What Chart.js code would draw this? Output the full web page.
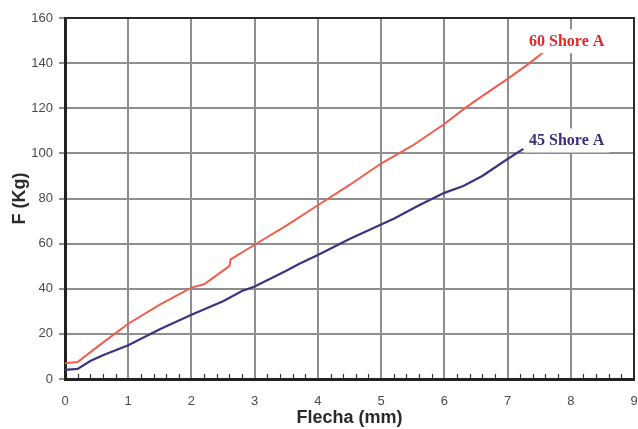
<!DOCTYPE html>
<html>
<head>
<meta charset="utf-8">
<script src="https://cdn.jsdelivr.net/npm/chart.js@4/dist/chart.umd.min.js"></script>
<style>
  html, body { margin: 0; padding: 0; background: #ffffff; }
  #wrap { position: relative; width: 638px; height: 429px; }
</style>
</head>
<body>
<div id="wrap"><canvas id="c" width="638" height="429"></canvas></div>
<script>
// ---- data ----
const xTicks = [0, 1, 2, 3, 4, 5, 6, 7, 8, 9];
const yTicks = [0, 20, 40, 60, 80, 100, 120, 140, 160];

const shore60Name = "60 Shore A";
const shore60X = [0, 0.2, 0.5, 1.0, 1.5, 2.0, 2.2, 2.6, 2.62, 3.0, 3.5, 4.0, 4.5, 5.0, 5.5, 6.0, 6.3, 6.5, 7.0, 7.3, 7.6];
const shore60Y = [7, 7.5, 14, 24.5, 33, 40.5, 42, 50, 53, 59.5, 68, 77, 86, 95.5, 103.5, 113, 119.5, 123.5, 133, 139, 145.5];

const shore45Name = "45 Shore A";
const shore45X = [0, 0.2, 0.4, 0.6, 1.0, 1.5, 2.0, 2.5, 2.8, 3.0, 3.5, 3.7, 4.0, 4.5, 5.0, 5.2, 5.6, 6.0, 6.3, 6.6, 7.0, 7.25];
const shore45Y = [4, 4.5, 8, 10.5, 15, 22, 28.5, 34.5, 39, 41, 48, 51, 55, 62, 68.5, 71, 77, 82.5, 85.5, 90, 97.5, 102];

const xTitle = "Flecha (mm)";
const yTitle = "F (Kg)";

const toPts = (xs, ys) => xs.map((x, i) => ({ x: x, y: ys[i] }));

// labels placed in data coordinates
const seriesLabels = [
  { text: shore60Name, x: 7.34, y: 147.5, color: "#e3262a" },
  { text: shore45Name, x: 7.34, y: 103.5, color: "#3a2d7e" }
];

const extrasPlugin = {
  id: "extras",
  afterDatasetsDraw(chart) {
    const ctx = chart.ctx;
    const xs = chart.scales.x, ys = chart.scales.y;
    const ca = chart.chartArea;
    ctx.save();
    // minor ticks on x axis (every 0.2 mm), pointing up
    ctx.strokeStyle = "#333";
    ctx.lineWidth = 1.2;
    for (let k = 1; k < 45; k++) {
      if (k % 5 === 0) continue;
      const px = Math.round(xs.getPixelForValue(k * 0.2)) + 0.5;
      ctx.beginPath();
      ctx.moveTo(px, ca.bottom);
      ctx.lineTo(px, ca.bottom - 5);
      ctx.stroke();
    }
    // frame top / right
    ctx.strokeStyle = "#2a2a2a";
    ctx.lineWidth = 2;
    ctx.beginPath();
    ctx.moveTo(ca.left, ca.top);
    ctx.lineTo(ca.right, ca.top);
    ctx.lineTo(ca.right, ca.bottom);
    ctx.stroke();
    // series labels with white boxes
    ctx.font = "bold 16px 'Liberation Serif', 'DejaVu Serif', serif";
    ctx.textBaseline = "alphabetic";
    ctx.textAlign = "left";
    seriesLabels.forEach(l => {
      const px = xs.getPixelForValue(l.x);
      const py = ys.getPixelForValue(l.y);
      const w = ctx.measureText(l.text).width;
      ctx.fillStyle = "#ffffff";
      ctx.fillRect(px - 5, py - 17, w + 10, 24);
      ctx.fillStyle = l.color;
      ctx.fillText(l.text, px, py);
    });
    ctx.restore();
  }
};

new Chart(document.getElementById("c"), {
  type: "line",
  data: {
    datasets: [
      {
        label: shore60Name,
        data: toPts(shore60X, shore60Y),
        borderColor: "#f05d4e",
        borderWidth: 2,
        pointRadius: 0,
        tension: 0,
        fill: false
      },
      {
        label: shore45Name,
        data: toPts(shore45X, shore45Y),
        borderColor: "#3d3380",
        borderWidth: 2.2,
        pointRadius: 0,
        tension: 0,
        fill: false
      }
    ]
  },
  options: {
    responsive: false,
    animation: false,
    devicePixelRatio: 1,
    layout: { padding: { top: 18, right: 4, left: 0, bottom: 0 } },
    plugins: {
      legend: { display: false },
      tooltip: { enabled: false }
    },
    scales: {
      x: {
        type: "linear",
        min: 0, max: 9,
        afterBuildTicks: s => { s.ticks = xTicks.map(v => ({ value: v })); },
        afterFit: s => { s.height = 50; s.paddingLeft = 0; s.paddingRight = 0; },
        ticks: {
          color: "#4a4a4a",
          font: { family: "Liberation Sans, Arial, sans-serif", size: 13 },
          padding: 15,
          maxRotation: 0
        },
        grid: {
          color: "#8e8e8e",
          lineWidth: 2,
          drawTicks: false,
          tickLength: 0
        },
        border: { color: "#222", width: 3 },
        title: {
          display: true,
          text: xTitle,
          color: "#2a2a2a",
          font: { family: "Liberation Sans, Arial, sans-serif", size: 18, weight: "bold" },
          padding: { top: 0, bottom: 0 }
        }
      },
      y: {
        type: "linear",
        min: 0, max: 160,
        afterBuildTicks: s => { s.ticks = yTicks.map(v => ({ value: v })); },
        afterFit: s => { s.width = 65; s.paddingTop = 0; s.paddingBottom = 0; },
        ticks: {
          color: "#4a4a4a",
          font: { family: "Liberation Sans, Arial, sans-serif", size: 13 },
          padding: 6
        },
        grid: {
          color: "#8e8e8e",
          lineWidth: 2,
          drawTicks: true,
          tickLength: 6
        },
        border: { color: "#222", width: 3 },
        title: {
          display: true,
          text: yTitle,
          color: "#2a2a2a",
          font: { family: "Liberation Sans, Arial, sans-serif", size: 18, weight: "bold" },
          padding: { top: 9, bottom: 0 }
        }
      }
    }
  },
  plugins: [extrasPlugin]
});
</script>
</body>
</html>
